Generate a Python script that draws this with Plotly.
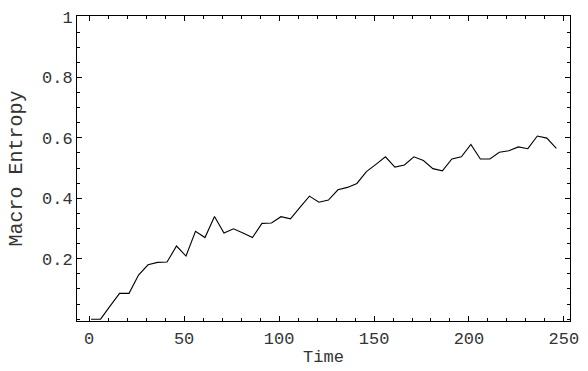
import plotly.graph_objects as go

time = [1, 6, 11, 16, 21, 26, 31, 36, 41, 46, 51, 56, 61, 66, 71, 76, 81, 86, 91, 96,
        101, 106, 111, 116, 121, 126, 131, 136, 141, 146, 151, 156, 161, 166, 171, 176,
        181, 186, 191, 196, 201, 206, 211, 216, 221, 226, 231, 236, 241, 246]
entropy = [0.0, 0.0, 0.043, 0.0855, 0.0855, 0.146, 0.180, 0.188, 0.189, 0.242,
           0.209, 0.291, 0.270, 0.340, 0.285, 0.299, 0.285, 0.270, 0.317, 0.318,
           0.339, 0.332, 0.370, 0.407, 0.387, 0.394, 0.428, 0.436, 0.449, 0.488,
           0.512, 0.537, 0.503, 0.510, 0.537, 0.525, 0.498, 0.491, 0.530, 0.537,
           0.578, 0.530, 0.530, 0.552, 0.557, 0.570, 0.564, 0.606, 0.599, 0.565]

x_ticks = [0, 50, 100, 150, 200, 250]
y_ticks = [0.2, 0.4, 0.6, 0.8, 1.0]
y_ticktext = ["0.2", "0.4", "0.6", "0.8", "1"]

FONT = "Liberation Mono"
TXT = "#333"

fig = go.Figure()
fig.add_trace(go.Scatter(x=time, y=entropy, mode="lines",
                         line=dict(color="black", width=1.1), cliponaxis=True))

fig.update_layout(
    width=588, height=371,
    margin=dict(l=77, r=9, t=15, b=46),
    paper_bgcolor="white", plot_bgcolor="white",
    showlegend=False,
    font=dict(family=FONT, size=17, color=TXT),
)
fig.update_xaxes(
    range=[-6.4, 253.2], tickvals=x_ticks, ticks="inside", ticklen=5, tickcolor="black",
    showline=True, linecolor="black", linewidth=1, mirror="allticks",
    showgrid=False, zeroline=False, ticklabelstandoff=2,
    minor=dict(ticks="inside", dtick=10, tick0=0, ticklen=3, tickcolor="black", showgrid=False),
    title=dict(text="Time", font=dict(family=FONT, size=17, color=TXT), standoff=1),
    tickfont=dict(family=FONT, size=17, color=TXT),
)
fig.update_yaxes(
    range=[-0.006, 1.003], tickvals=y_ticks, ticktext=y_ticktext, ticks="inside", ticklen=5,
    tickcolor="black",
    showline=True, linecolor="black", linewidth=1, mirror="allticks",
    showgrid=False, zeroline=False,
    minor=dict(ticks="inside", dtick=0.05, tick0=0, ticklen=3, tickcolor="black", showgrid=False),
    title=dict(text="Macro Entropy", font=dict(family=FONT, size=20, color=TXT), standoff=13),
    tickfont=dict(family=FONT, size=17, color=TXT),
)

fig.write_html("out.html")
